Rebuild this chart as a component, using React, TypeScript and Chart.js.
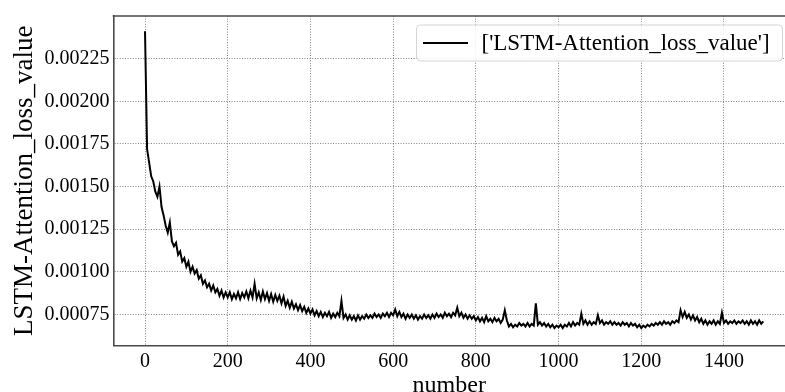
import React, { useEffect, useRef } from "react";
import { Chart, registerables } from "chart.js";

Chart.register(...registerables);

// sampling stride of the loss curve (one value every STEP epochs)
const STEP = 5;

// loss values at epochs 0, 5, 10, ... 1495
const lossValues = [
  0.00241, 0.00172, 0.00164, 0.00156, 0.00153, 0.00147, 0.00144, 0.0015, 0.00138, 0.00133,
  0.00127, 0.00123, 0.00129, 0.00118, 0.00115, 0.00117, 0.0011, 0.00112, 0.00106, 0.00108,
  0.00103, 0.00106, 0.001, 0.00103, 0.00099, 0.00101, 0.00096, 0.00098, 0.00093, 0.00095,
  0.00091, 0.00093, 0.00089, 0.00092, 0.00088, 0.0009, 0.00086, 0.00089, 0.00085, 0.00088,
  0.00085, 0.00088, 0.00084, 0.00087, 0.000845, 0.00088, 0.00084, 0.000875, 0.00085, 0.000885,
  0.000845, 0.00089, 0.00085, 0.00093, 0.000845, 0.00088, 0.000835, 0.000885, 0.00084, 0.000875,
  0.00083, 0.00087, 0.000825, 0.000865, 0.00083, 0.00086, 0.000815, 0.000855, 0.0008, 0.00083,
  0.00079, 0.000825, 0.000785, 0.00081, 0.000775, 0.000805, 0.00077, 0.000795, 0.00076, 0.000785,
  0.000755, 0.00078, 0.000745, 0.00077, 0.00074, 0.000765, 0.000735, 0.00076, 0.00074, 0.000765,
  0.00073, 0.000755, 0.000735, 0.00076, 0.00074, 0.00083, 0.00073, 0.00075, 0.00072, 0.000745,
  0.00072, 0.00074, 0.000715, 0.000745, 0.00072, 0.00074, 0.000725, 0.00075, 0.00073, 0.000745,
  0.00073, 0.000755, 0.000735, 0.00075, 0.00073, 0.000755, 0.00074, 0.00076, 0.000735, 0.00076,
  0.000745, 0.00078, 0.00074, 0.000765, 0.000735, 0.000755, 0.000725, 0.00075, 0.00073, 0.00075,
  0.000725, 0.000745, 0.00072, 0.00074, 0.000725, 0.00075, 0.00073, 0.000745, 0.000725, 0.00075,
  0.00073, 0.000755, 0.000735, 0.00075, 0.00073, 0.00076, 0.00074, 0.000755, 0.000735, 0.00076,
  0.000745, 0.00079, 0.00074, 0.00076, 0.00073, 0.00075, 0.000725, 0.000745, 0.000725, 0.00074,
  0.000715, 0.000735, 0.00071, 0.00073, 0.000705, 0.00074, 0.00071, 0.000725, 0.000705, 0.00073,
  0.00071, 0.000725, 0.0007, 0.00072, 0.000775, 0.000715, 0.00068, 0.000695, 0.000675, 0.00069,
  0.00068, 0.0007, 0.000685, 0.000695, 0.00068, 0.0007, 0.00068, 0.000695, 0.000685, 0.000815,
  0.00069, 0.000705, 0.000685, 0.0007, 0.00068, 0.000695, 0.000675, 0.00069, 0.00067, 0.000685,
  0.000675, 0.00069, 0.00067, 0.00069, 0.00068, 0.0007, 0.00068, 0.000705, 0.000685, 0.0007,
  0.00069, 0.000755, 0.000695, 0.000715, 0.00069, 0.00071, 0.00069, 0.000705, 0.000695, 0.000745,
  0.0007, 0.000715, 0.00069, 0.000705, 0.000695, 0.00071, 0.00069, 0.000705, 0.00069, 0.0007,
  0.000685, 0.000705, 0.00069, 0.0007, 0.00068, 0.0007, 0.000685, 0.000695, 0.000675, 0.00069,
  0.00067, 0.000685, 0.000675, 0.00069, 0.00068, 0.000695, 0.000685, 0.0007, 0.00069, 0.000705,
  0.00069, 0.00071, 0.000695, 0.000705, 0.00069, 0.00071, 0.0007, 0.000715, 0.000705, 0.000775,
  0.000735, 0.000765, 0.00073, 0.00075, 0.00072, 0.000745, 0.000715, 0.000735, 0.000705, 0.000725,
  0.000695, 0.000715, 0.00069, 0.00071, 0.000695, 0.000715, 0.00069, 0.00071, 0.000695, 0.00076,
  0.0007, 0.000715, 0.000695, 0.00071, 0.0007, 0.000715, 0.000695, 0.00071, 0.0007, 0.000715,
  0.000695, 0.00071, 0.00069, 0.000715, 0.000695, 0.00071, 0.00069, 0.000715, 0.000695, 0.00071,
];

const xTicks = [0, 200, 400, 600, 800, 1000, 1200, 1400];
const yTicks = [0.00075, 0.001, 0.00125, 0.0015, 0.00175, 0.002, 0.00225];
const seriesName = "['LSTM-Attention_loss_value']";
const yTitle = "LSTM-Attention_loss_value";
const xTitle = "number";

const FONT = "'Liberation Serif', 'Times New Roman', serif";
const GRID = "rgba(70,70,70,0.85)";
const GRID_DASH = [1, 1.6];
const FRAME = "#4a4a4a";

const framePlugin = {
  id: "frameAndLegend",
  afterDraw(chart: any) {
    const { ctx, chartArea } = chart;
    ctx.save();
    // top spine
    ctx.strokeStyle = FRAME;
    ctx.lineWidth = 1.6;
    ctx.beginPath();
    ctx.moveTo(chartArea.left - 0.8, chartArea.top);
    ctx.lineTo(chartArea.right, chartArea.top);
    ctx.stroke();

    // legend box
    const bx = 416.5, by = 25, bw = 366, bh = 36;
    ctx.beginPath();
    (ctx as any).roundRect(bx, by, bw, bh, 4);
    ctx.fillStyle = "rgba(255,255,255,0.85)";
    ctx.fill();
    ctx.strokeStyle = "#d4d4d4";
    ctx.lineWidth = 1;
    ctx.stroke();
    // legend line sample
    ctx.strokeStyle = "#000";
    ctx.lineWidth = 1.8;
    ctx.beginPath();
    ctx.moveTo(423, by + bh / 2);
    ctx.lineTo(468, by + bh / 2);
    ctx.stroke();
    // legend label
    ctx.fillStyle = "#000";
    ctx.font = `23px ${FONT}`;
    ctx.textBaseline = "middle";
    ctx.textAlign = "left";
    ctx.fillText(seriesName, 481.5, by + bh / 2 + 1);
    ctx.restore();
  },
};

export default function App() {
  const ref = useRef<HTMLCanvasElement | null>(null);

  useEffect(() => {
    if (!ref.current) return;
    const points = lossValues.map((v, i) => ({ x: i * STEP, y: v }));
    const chart = new Chart(ref.current, {
      type: "line",
      data: {
        datasets: [
          {
            label: seriesName,
            data: points,
            borderColor: "#000",
            borderWidth: 2,
            pointRadius: 0,
            tension: 0,
            fill: false,
          },
        ],
      },
      options: {
        responsive: false,
        animation: false,
        devicePixelRatio: 1,
        layout: { padding: { top: 14, left: 0, right: 0, bottom: 0 } },
        plugins: {
          legend: { display: false },
          tooltip: { enabled: false },
        },
        scales: {
          x: {
            type: "linear",
            min: -76.2,
            max: 1547.5,
            afterBuildTicks: (s: any) => {
              s.ticks = xTicks.map((v) => ({ value: v }));
            },
            afterFit: (s: any) => {
              s.height = 46.3;
            },
            ticks: {
              padding: 4,
              color: "#000",
              font: { family: FONT, size: 20 },
              maxRotation: 0,
              callback: (v: any) => String(v),
            },
            grid: {
              color: GRID,
              lineWidth: 0.8,
              drawTicks: false,
            },
            border: { display: true, color: FRAME, width: 1.6, dash: GRID_DASH },
            title: {
              display: true,
              text: xTitle,
              color: "#000",
              font: { family: FONT, size: 24 },
              padding: { top: 0, bottom: -8.5 },
            },
          },
          y: {
            type: "linear",
            min: 0.000567,
            max: 0.0025,
            afterBuildTicks: (s: any) => {
              s.ticks = yTicks.map((v) => ({ value: v }));
            },
            afterFit: (s: any) => {
              s.width = 113.5;
            },
            ticks: {
              padding: 4,
              color: "#000",
              font: { family: FONT, size: 20 },
              callback: (v: any) => Number(v).toFixed(5),
            },
            grid: {
              color: GRID,
              lineWidth: 0.8,
              drawTicks: false,
            },
            border: { display: true, color: FRAME, width: 1.6, dash: GRID_DASH },
            title: {
              display: true,
              text: yTitle,
              color: "#000",
              font: { family: FONT, size: 27 },
              padding: { top: 8.6, bottom: 0 },
            },
          },
        },
      } as any,
      plugins: [framePlugin],
    });
    return () => chart.destroy();
  }, []);

  return (
    <div style={{ position: "fixed", left: 0, top: 0, width: 785, height: 392, background: "#fff" }}>
      <canvas ref={ref} width={785} height={392} style={{ width: 785, height: 392, display: "block" }} />
    </div>
  );
}
